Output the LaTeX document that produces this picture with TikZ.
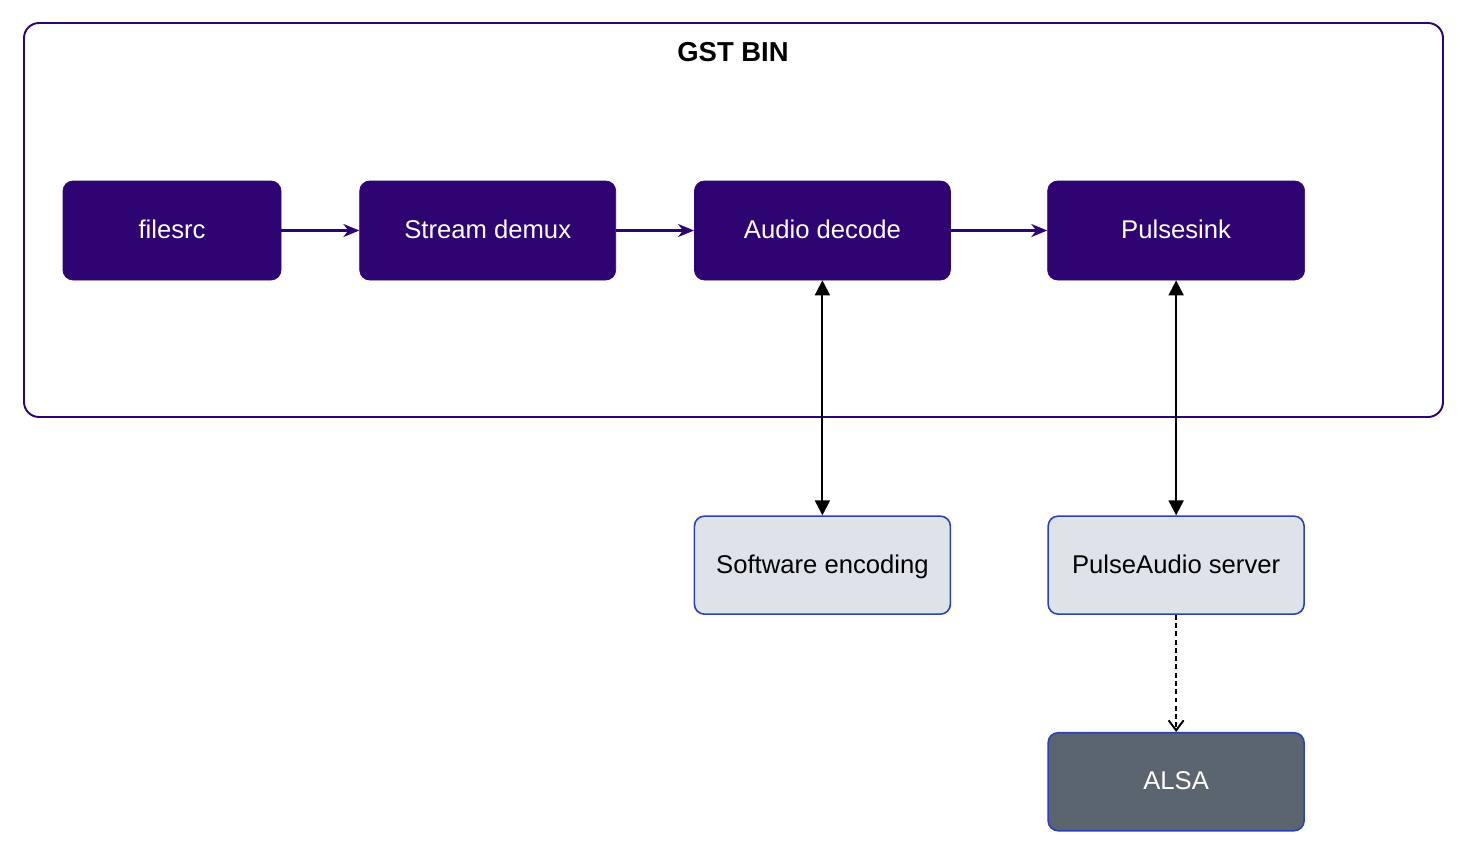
\documentclass[tikz,border=0pt]{standalone}
\usepackage{fontspec}
\setmainfont{Liberation Sans}
\usetikzlibrary{arrows.meta,positioning}

\definecolor{gstpurple}{RGB}{46,4,115}
\definecolor{hostfill}{RGB}{222,227,234}
\definecolor{hostline}{RGB}{45,64,181}
\definecolor{alsafill}{RGB}{91,101,112}

\begin{document}
\begin{tikzpicture}[
      element/.style={
        rectangle,
        fill=gstpurple, draw=gstpurple,
        rounded corners=0.2cm,
        minimum height=1.98cm,
        text height=1.9ex, text depth=0.2ex,
        text=white, font=\fontsize{14.6}{17}\selectfont,
        align=center
      },
      host/.style={
        rectangle,
        fill=hostfill, draw=hostline, line width=0.9pt,
        rounded corners=0.2cm,
        minimum width=5.12cm,
        minimum height=1.96cm,
        text height=1.9ex, text depth=0.2ex,
        font=\fontsize{14.6}{17}\selectfont,
        align=center
      },
      flow/.style={
        -{Stealth[length=3.2mm,width=2.6mm,inset=1mm]},
        draw=gstpurple, line width=1.2pt
      },
      link/.style={
        {Triangle[length=3mm,width=3mm]}-{Triangle[length=3mm,width=3mm]},
        line width=1.1pt
      },
      driver/.style={
        -{Straight Barb[length=2mm,width=3mm]},
        dash pattern=on 2.8pt off 1.9pt, line width=1.1pt
      }
    ]
      \useasboundingbox (0,0) rectangle (29.36,-17.32);
      \draw[gstpurple, line width=1.1pt, rounded corners=0.3cm] (0.48,-0.46) rectangle (28.86,-8.34);
      \node[font=\bfseries\fontsize{15.6}{18}\selectfont] (title) at (14.66,-1.04) {GST BIN};
      \node[element, minimum width=4.36cm] (filesrc) at (3.44,-4.61) {filesrc};
      \node[element, minimum width=5.12cm, right=1.56cm of filesrc] (demux) {Stream demux};
      \node[element, minimum width=5.12cm, right=1.56cm of demux] (decode) {Audio decode};
      \node[element, minimum width=5.14cm, right=1.93cm of decode] (pulsesink) {Pulsesink};
      \node[host, below=4.70cm of decode] (encoding) {Software encoding};
      \node[host, below=4.70cm of pulsesink] (server) {PulseAudio server};
      \node[host, fill=alsafill, text=white, below=2.34cm of server] (alsa) {ALSA};
      \draw[flow] (filesrc) -- (demux);
      \draw[flow] (demux) -- (decode);
      \draw[flow] (decode) -- (pulsesink);
      \draw[link] (decode) -- (encoding);
      \draw[link] (pulsesink) -- (server);
      \draw[driver] (server) -- (alsa);
    \end{tikzpicture}
\end{document}
